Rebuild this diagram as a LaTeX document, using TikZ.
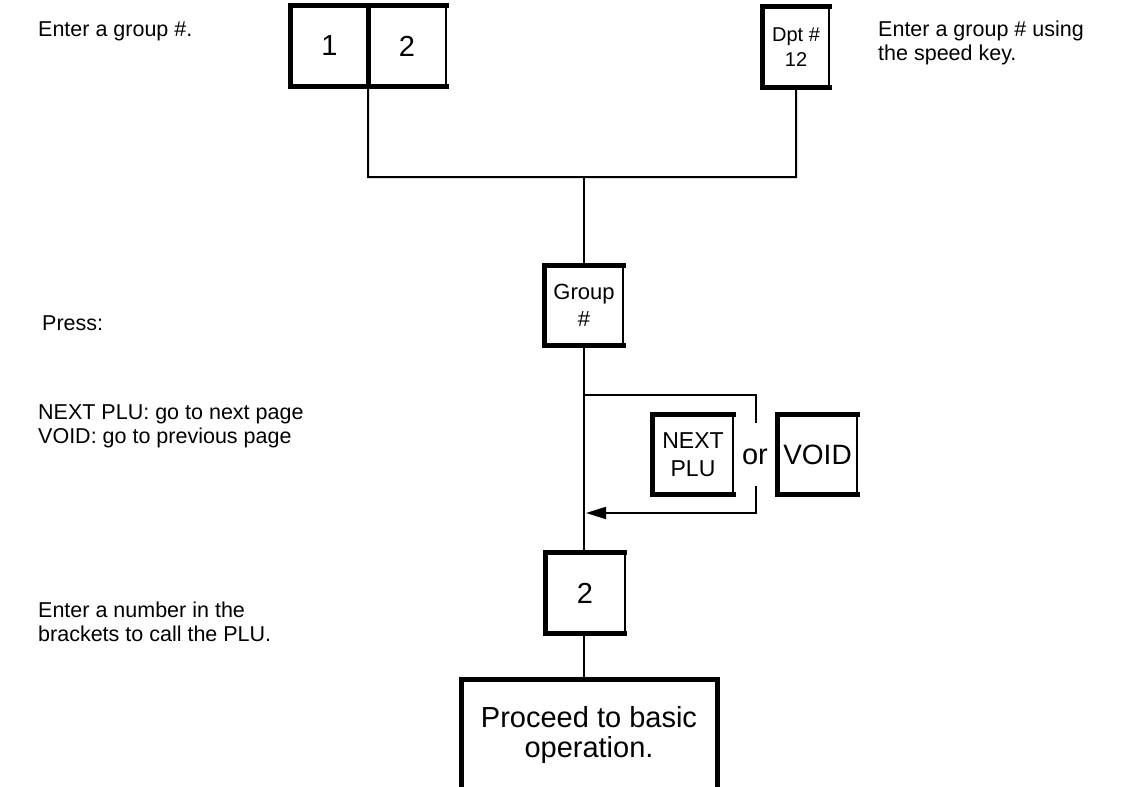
\documentclass[tikz,border=0pt]{standalone}
\usepackage{fontspec}
\setmainfont{Liberation Sans}
\usetikzlibrary{arrows.meta}
\tikzset{
  lbl/.style={anchor=west, align=left, inner sep=0pt, font=\fontsize{21.5bp}{24bp}\selectfont},
  key/.style={inner sep=0pt, align=center},
  thickside/.style={line width=5bp, line cap=rect, line join=miter},
  thinside/.style={line width=2bp},
  conn/.style={line width=2bp},
  arr/.style={conn, -{Triangle[length=20bp,width=12bp]}, shorten >=2bp},
}
\newcommand\keyframe[1]{%
  \draw[thickside] (#1.north east) -- (#1.north west) -- (#1.south west) -- (#1.south east);
  \draw[thinside] (#1.north east) -- (#1.south east);}
\begin{document}
\begin{tikzpicture}[x=1bp,y=1bp]
\useasboundingbox (0,0) rectangle (1126,-787);

% left and right labels
\node[lbl] (t1) at (38,-31) {Enter a group \#.};
\node[lbl] (t2) at (878,-43) {Enter a group \# using\\the speed key.};
\node[lbl] (t3) at (42,-323) {Press:};
\node[lbl] (t4) at (38,-426) {NEXT PLU: go to next page\\VOID: go to previous page};
\node[lbl] (t5) at (38,-622) {Enter a number in the\\brackets to call the PLU.};

% keys
\node[key, minimum width=77bp, minimum height=80bp, font=\fontsize{29bp}{30bp}\selectfont] (one) at (329.5,-46) {1};
\node[key, minimum width=78bp, minimum height=80bp, font=\fontsize{29bp}{30bp}\selectfont] (two) at (407,-46) {2};
\draw[thickside] (two.north east) -- (one.north west) -- (one.south west) -- (two.south east);
\draw[thickside] (one.north east) -- (one.south east);
\draw[thinside] (two.north east) -- (two.south east);

\node[key, minimum width=66bp, minimum height=80bp, font=\fontsize{20bp}{25bp}\selectfont] (dpt) at (796,-47) {Dpt \#\\12};
\keyframe{dpt}

\node[key, minimum width=78bp, minimum height=79bp, font=\fontsize{22bp}{27bp}\selectfont] (grp) at (584,-305.5) {Group\\\#};
\keyframe{grp}

\node[key, minimum width=80bp, minimum height=79bp, font=\fontsize{23bp}{28bp}\selectfont] (next) at (693,-454.5) {NEXT\\PLU};
\keyframe{next}
\node[key, font=\fontsize{29bp}{30bp}\selectfont] (or) at (755,-457) {or};
\node[key, minimum width=79bp, minimum height=79bp, font=\fontsize{28bp}{30bp}\selectfont] (void) at (817.5,-454.5) {VOID};
\keyframe{void}

\node[key, minimum width=79bp, minimum height=80bp, font=\fontsize{29bp}{30bp}\selectfont] (n2) at (585,-593) {2};
\keyframe{n2}

\node[key, font=\fontsize{29bp}{30bp}\selectfont] (proc) at (589,-735) {Proceed to basic\\operation.};
\draw[line width=5bp, line join=miter] (461,-800) -- (461,-679) -- (717,-679) -- (717,-800);
\coordinate (ptop) at (584,-679);

% connectors
\coordinate (jl) at (368,-177);
\coordinate (jr) at (796,-177);
\coordinate (jc) at (584,-177);
\draw[conn] (one.south east) -- (jl) -- (jr) -- (dpt.south);
\draw[conn] (jc) -- (grp.north);
\draw[conn] (grp.south) -- (grp.south |- n2.north);
\draw[conn] (grp.south |- n2.south) -- (ptop);

\coordinate (bt) at (584,-395);
\coordinate (bt2) at (756,-395);
\coordinate (bt3) at (756,-423);
\coordinate (bb3) at (756,-486);
\coordinate (bb2) at (756,-513);
\coordinate (bb) at (584,-513);
\draw[conn] (bt) -- (bt2) -- (bt3);
\draw[arr] (bb3) -- (bb2) -- (bb);
\end{tikzpicture}
\end{document}
